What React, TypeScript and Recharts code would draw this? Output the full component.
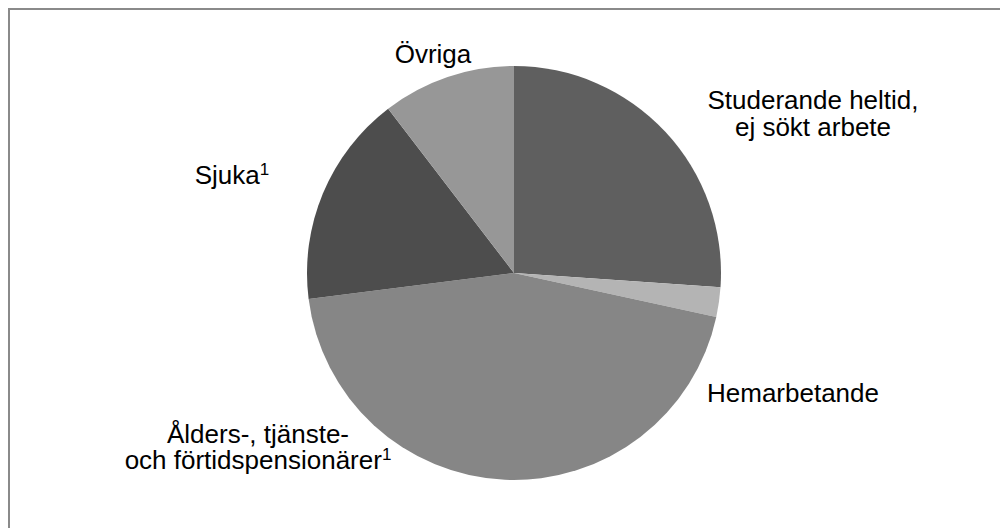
import React from "react";
import { PieChart, Pie, Cell } from "recharts";

const categories = [
  "Studerande heltid, ej sökt arbete",
  "Hemarbetande",
  "Ålders-, tjänste- och förtidspensionärer",
  "Sjuka",
  "Övriga",
];
const values = [26.1, 2.3, 44.6, 16.6, 10.4];
const colors = ["#5f5f5f", "#b4b4b4", "#868686", "#4d4d4d", "#979797"];

// label lines per category (text, superscript footnote)
const labelLines: { t: string; sup?: string }[][] = [
  [{ t: "Studerande heltid," }, { t: "ej sökt arbete" }],
  [{ t: "Hemarbetande" }],
  [{ t: "Ålders-, tjänste-" }, { t: "och förtidspensionärer", sup: "1" }],
  [{ t: "Sjuka", sup: "1" }],
  [{ t: "Övriga" }],
];

// layout (chart coordinates): center x, first baseline y, line spacing
const labelLayout = [
  { x: 805, y: 101, dy: 27 },
  { x: 785, y: 394, dy: 27 },
  { x: 250, y: 435, dy: 26 },
  { x: 224, y: 176, dy: 27 },
  { x: 425, y: 55, dy: 27 },
];

const data = categories.map((name, i) => ({ name, value: values[i] }));

const FONT = "'Liberation Sans', Arial, sans-serif";

const renderLabel = (props: any) => {
  const i = props.index;
  const lay = labelLayout[i];
  const lines = labelLines[i];
  return (
    <text
      key={`lbl-${i}`}
      textAnchor="middle"
      fontFamily={FONT}
      fontSize={26}
      fill="#000"
    >
      {lines.map((ln, k) => (
        <tspan key={k} x={lay.x} y={lay.y + k * lay.dy}>
          {ln.t}
          {ln.sup ? (
            <tspan fontSize={17} dy={-9}>
              {ln.sup}
            </tspan>
          ) : null}
        </tspan>
      ))}
    </text>
  );
};

export default function App() {
  return (
    <div style={{ position: "relative", width: 1000, height: 520, background: "#fff" }}>
      <div
        style={{
          position: "absolute",
          left: 0,
          top: 0,
          right: -4,
          bottom: -4,
          borderTop: "2px solid #8a8a8a",
          borderLeft: "2px solid #8a8a8a",
          pointerEvents: "none",
        }}
      />
      <PieChart width={1000} height={520} margin={{ top: 0, right: 0, bottom: 0, left: 0 }}>
        <Pie
          data={data}
          dataKey="value"
          nameKey="name"
          cx={506}
          cy={265}
          outerRadius={207}
          startAngle={90}
          endAngle={-270}
          stroke="none"
          label={renderLabel}
          labelLine={false}
          isAnimationActive={false}
        >
          {data.map((d, i) => (
            <Cell key={d.name} fill={colors[i]} />
          ))}
        </Pie>
      </PieChart>
    </div>
  );
}
